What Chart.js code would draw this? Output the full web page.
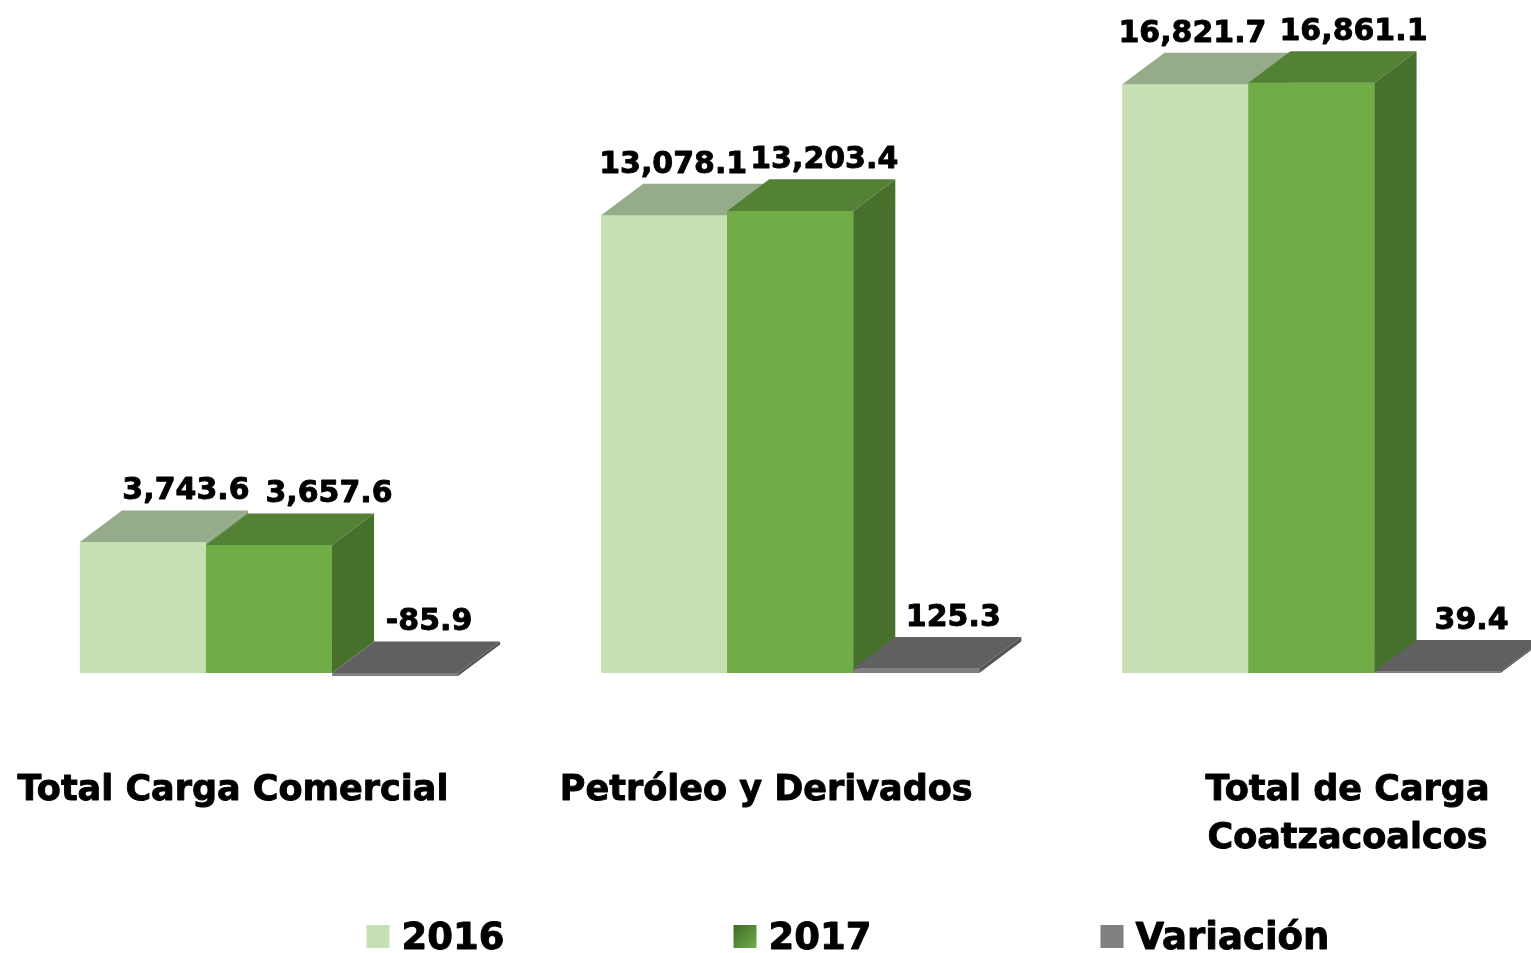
<!DOCTYPE html>
<html>
<head>
<meta charset="utf-8">
<script src="https://cdn.jsdelivr.net/npm/chart.js@4.4.1/dist/chart.umd.min.js"></script>
<style>
  html, body { margin: 0; padding: 0; background: #fff; }
  #wrap { width: 1531px; height: 953px; position: relative; }
</style>
</head>
<body>
<div id="wrap"><canvas id="chart"></canvas></div>
<script>
// 数据
const categories = [['Total Carga Comercial'], ['Petróleo y Derivados'], ['Total de Carga', 'Coatzacoalcos']];
const seriesNames = ['2016', '2017', 'Variación'];
const values2016 = [3743.6, 13078.1, 16821.7];
const values2017 = [3657.6, 13203.4, 16861.1];
const valuesVar = [-85.9, 125.3, 39.4];

// 3D 面的颜色
const faceColors = [
    { front: '#C6E0B4', top: '#95AB8A', side: '#8FA884' },
    { front: '#70AD47', top: '#548235', side: '#47702C' },
    { front: '#7F7F7F', top: '#606060', side: '#555555' }
];
// 数值标签相对柱中心的水平偏移（按系列、按类别）
const valueLabelDx = [[43, 9, 7], [60, 34, 42], [34, 37, 34]];

const FONT = '"DejaVu Sans", "Noto Sans", sans-serif';

function fmt(v) {
    return v.toLocaleString('en-US', { minimumFractionDigits: 1, maximumFractionDigits: 1 });
}

// 加粗一点的文字
function boldText(ctx, text, x, y, w) {
    ctx.lineWidth = w;
    ctx.lineJoin = 'round';
    ctx.strokeStyle = ctx.fillStyle;
    ctx.strokeText(text, x, y);
    ctx.fillText(text, x, y);
}

// 画立体柱子（正面、顶面、侧面）和数值
const bar3d = {
    id: 'bar3d',
    afterDatasetsDraw(chart) {
        const ctx = chart.ctx;
        ctx.save();
        const labelsToDraw = [];
        chart.data.datasets.forEach(function(ds, d) {
            const meta = chart.getDatasetMeta(d);
            const c = faceColors[d];
            meta.data.forEach(function(el, i) {
                const p = el.getProps(['x', 'y', 'base', 'width'], true);
                const left = p.x - p.width / 2;
                const right = p.x + p.width / 2;
                const top = Math.min(p.y, p.base);
                const bottom = Math.max(p.y, p.base);
                const dx = p.width / 3;
                const dy = p.width / 4;

                ctx.fillStyle = c.front;
                ctx.fillRect(left, top, p.width, bottom - top);

                ctx.fillStyle = c.top;
                ctx.beginPath();
                ctx.moveTo(left, top);
                ctx.lineTo(left + dx, top - dy);
                ctx.lineTo(right + dx, top - dy);
                ctx.lineTo(right, top);
                ctx.closePath();
                ctx.fill();

                ctx.fillStyle = c.side;
                ctx.beginPath();
                ctx.moveTo(right, top);
                ctx.lineTo(right + dx, top - dy);
                ctx.lineTo(right + dx, bottom - dy);
                ctx.lineTo(right, bottom);
                ctx.closePath();
                ctx.fill();

                labelsToDraw.push({ text: fmt(ds.data[i]), x: p.x + valueLabelDx[d][i], y: top - dy - 11 });
            });
        });

        ctx.fillStyle = '#000';
        ctx.font = 'bold 30px ' + FONT;
        ctx.textAlign = 'center';
        ctx.textBaseline = 'alphabetic';
        labelsToDraw.forEach(function(l) {
            boldText(ctx, l.text, l.x, l.y, 0.9);
        });
        ctx.restore();
    }
};

// 类别标签和图例
const labelNudge = [-36, -24, 36];
const annotations = {
    id: 'annotations',
    afterDraw(chart) {
        const ctx = chart.ctx;
        const xScale = chart.scales.x;
        ctx.save();
        ctx.fillStyle = '#000';
        ctx.font = 'bold 35px ' + FONT;
        ctx.textAlign = 'center';
        ctx.textBaseline = 'alphabetic';
        categories.forEach(function(lines, i) {
            const x = xScale.getPixelForTick(i) + labelNudge[i];
            lines.forEach(function(line, j) {
                boldText(ctx, line, x, 800 + j * 48, 0.9);
            });
        });

        // 图例
        const cx = chart.width / 2;
        ctx.font = 'bold 37px ' + FONT;
        ctx.textAlign = 'left';
        seriesNames.forEach(function(name, i) {
            const bx = cx - 32 + (i - 1) * 367;
            const by = 925;
            if (i === 1) {
                const g = ctx.createLinearGradient(bx, by, bx + 23, by + 23);
                g.addColorStop(0, '#3E6B28');
                g.addColorStop(1, '#70AD47');
                ctx.fillStyle = g;
            } else {
                ctx.fillStyle = i === 0 ? '#C6E0B4' : '#808080';
            }
            ctx.fillRect(bx, by, 23, 23);
            ctx.fillStyle = '#000';
            boldText(ctx, name, bx + 35, 949, 0.9);
        });
        ctx.restore();
    }
};

const chart = new Chart(document.getElementById('chart'), {
    type: 'bar',
    data: {
        labels: categories,
        datasets: [
            { label: seriesNames[0], data: values2016, backgroundColor: faceColors[0].front },
            { label: seriesNames[1], data: values2017, backgroundColor: faceColors[1].front },
            { label: seriesNames[2], data: valuesVar, backgroundColor: faceColors[2].front }
        ]
    },
    options: {
        responsive: true,
        maintainAspectRatio: false,
        animation: false,
        layout: { padding: { top: 43, bottom: 280, left: 269, right: 219.5 } },
        datasets: {
            bar: { categoryPercentage: 0.7255, barPercentage: 1, borderWidth: 0, clip: false }
        },
        scales: {
            x: { display: false, offset: false, grid: { display: false } },
            y: { display: false, min: 0, max: 18000, grid: { display: false } }
        },
        plugins: {
            legend: { display: false },
            tooltip: { enabled: false }
        }
    },
    plugins: [bar3d, annotations]
});
</script>
</body>
</html>
